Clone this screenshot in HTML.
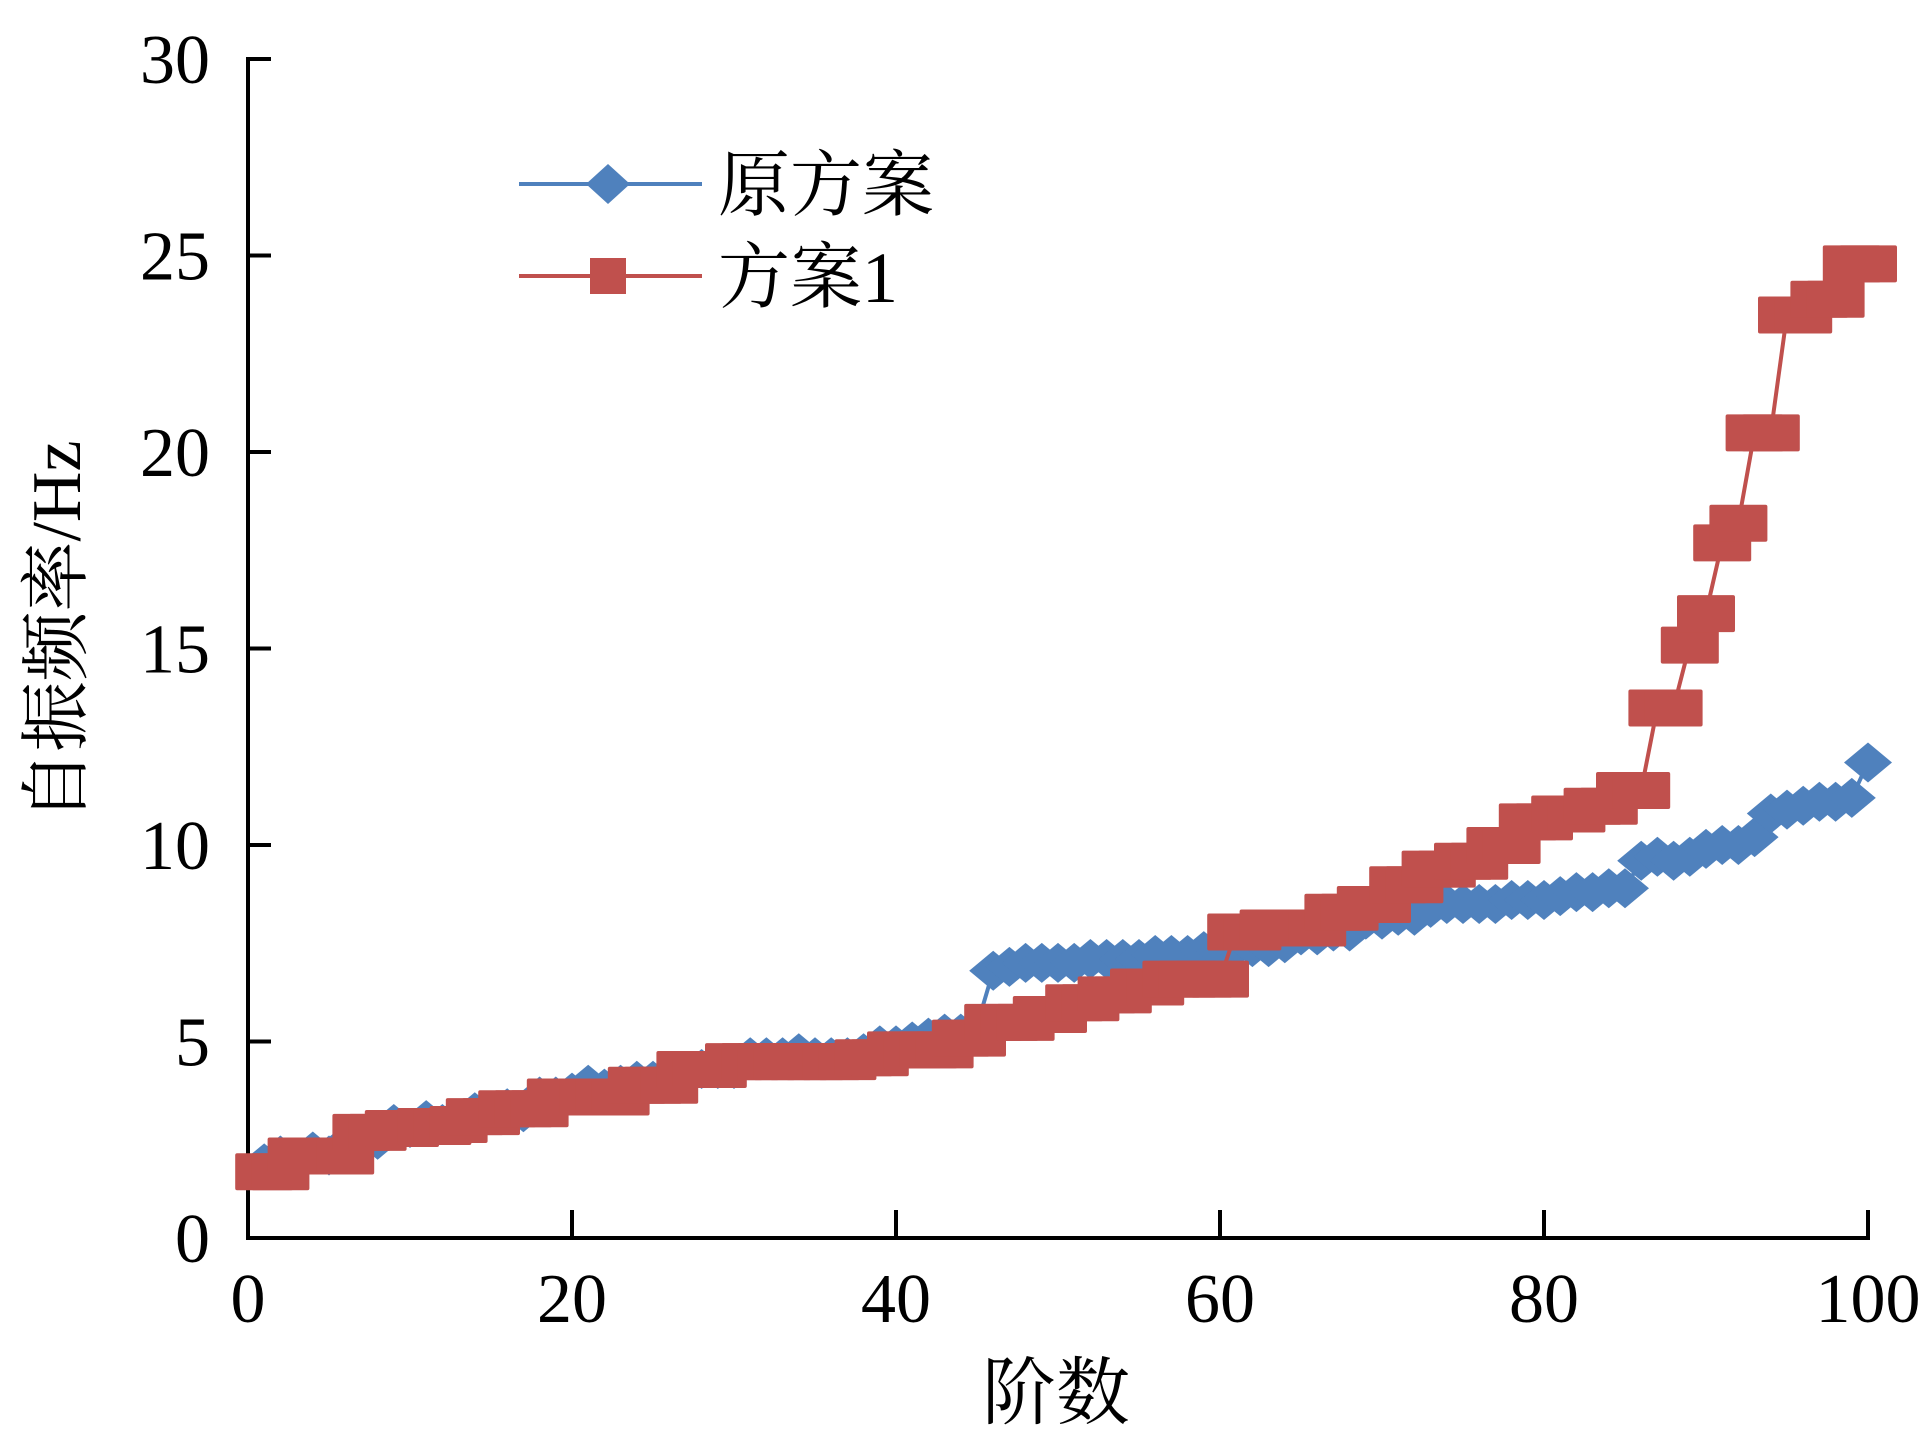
<!DOCTYPE html>
<html><head><meta charset="utf-8"><style>
html,body{margin:0;padding:0;background:#fff;}
svg{display:block;}
text{font-family:"Liberation Serif","Noto Serif CJK SC",serif;fill:#000;}
</style></head><body>
<svg id="chart" width="1925" height="1445" viewBox="0 0 1925 1445" xmlns="http://www.w3.org/2000/svg">
<g id="axes"></g>
<g id="series"></g>
<g id="legend">
  <line x1="519" y1="184" x2="702" y2="184" stroke="#4F81BD" stroke-width="4"/>
  <polygon points="608,164 630,184 608,204 586,184" fill="#4F81BD"/>
  <text x="718" y="210" font-size="72">原方案</text>
  <line x1="519" y1="276" x2="702" y2="276" stroke="#C0504D" stroke-width="4"/>
  <rect x="590" y="258" width="36" height="36" fill="#C0504D"/>
  <text x="718" y="302" font-size="72">方案1</text>
</g>
<text x="1056" y="1418" font-size="74" text-anchor="middle">阶数</text>
<text transform="translate(80,631) rotate(-90)" font-size="70" text-anchor="middle">自振频率/Hz</text>
</svg>
<script>
const xTicks = [0,20,40,60,80,100];
const yTicks = [0,5,10,15,20,25,30];
const original = [1.9,2.1,2.0,2.2,2.1,2.4,2.4,2.5,2.9,2.8,3.0,2.9,3.0,3.2,3.2,3.3,3.2,3.6,3.6,3.7,3.9,3.8,3.9,4.0,4.0,4.2,4.2,4.3,4.3,4.3,4.6,4.6,4.6,4.7,4.6,4.6,4.6,4.7,4.9,4.9,5.0,5.1,5.2,5.2,5.4,6.8,6.9,7.0,7.0,7.0,7.0,7.1,7.1,7.1,7.1,7.2,7.2,7.2,7.3,7.3,7.4,7.4,7.4,7.5,7.7,7.7,7.8,7.8,8.1,8.1,8.2,8.2,8.4,8.5,8.5,8.5,8.5,8.6,8.6,8.6,8.7,8.8,8.8,8.9,8.9,9.6,9.7,9.6,9.7,9.9,10.0,10.0,10.2,10.8,10.9,11.0,11.1,11.1,11.2,12.1];
const scheme1 = [1.7,1.7,2.1,2.1,2.1,2.1,2.7,2.7,2.8,2.8,2.85,2.85,2.9,3.1,3.1,3.3,3.3,3.3,3.6,3.6,3.6,3.6,3.6,3.9,3.9,3.9,4.3,4.3,4.3,4.5,4.5,4.5,4.5,4.5,4.5,4.5,4.5,4.6,4.6,4.8,4.8,4.8,4.8,5.1,5.1,5.5,5.5,5.5,5.7,5.7,6.0,6.0,6.2,6.2,6.4,6.4,6.6,6.6,6.6,6.6,7.8,7.8,7.9,7.9,7.9,7.9,8.3,8.3,8.5,8.5,9.0,9.0,9.4,9.4,9.6,9.6,10.0,10.0,10.6,10.6,10.8,10.8,11.0,11.0,11.4,11.4,13.5,13.5,15.1,15.9,17.7,18.2,20.5,20.5,23.5,23.5,23.9,23.9,24.8,24.8];
const NS='http://www.w3.org/2000/svg';
const X0=248,X1=1868,Y0=1238,Y1=59;
const xs=v=>X0+(v-0)/100*(X1-X0);
const ys=v=>Y0-(v/30)*(Y0-Y1);
function mk(tag,attrs,parent){const e=document.createElementNS(NS,tag);for(const k in attrs)e.setAttribute(k,attrs[k]);parent.appendChild(e);return e;}
const axes=document.getElementById('axes');
let a=mk('line',{x1:X0,y1:Y1-2,x2:X0,y2:Y0+2,stroke:'#000','stroke-width':4},axes);


a=mk('line',{x1:X0-2,y1:Y0,x2:X1+2,y2:Y0,stroke:'#000','stroke-width':4},axes);


yTicks.forEach(v=>{
  const t=mk('line',{x1:X0,y1:ys(v),x2:X0+23,y2:ys(v),stroke:'#000','stroke-width':4},axes);
  
  
  const l=mk('text',{x:210,y:ys(v)+24,'font-size':70,'text-anchor':'end'},axes);
  l.textContent=v;
  
  
});
xTicks.forEach(v=>{
  const t=mk('line',{x1:xs(v),y1:Y0,x2:xs(v),y2:Y0-28,stroke:'#000','stroke-width':4},axes);
  
  
  const l=mk('text',{x:xs(v),y:1322,'font-size':70,'text-anchor':'middle'},axes);
  l.textContent=v;
  
  
});
const sg=document.getElementById('series');
function drawSeries(vals,color,kind,name){
  const g=mk('g',{},sg);
  
  
  const pts=vals.map((v,i)=>xs(i+1)+','+ys(v)).join(' ');
  const pl=mk('polyline',{points:pts,fill:'none',stroke:color,'stroke-width':4},g);
  
  
  vals.forEach((v,i)=>{
    const cx=xs(i+1),cy=ys(v);
    let m;
    if(kind==='d'){
      m=mk('polygon',{points:`${cx},${cy-20} ${cx+24},${cy} ${cx},${cy+20} ${cx-24},${cy}`,fill:color},g);
    }else{
      m=mk('rect',{x:cx-29,y:cy-18,width:58,height:37,rx:2,fill:color},g);
    }
    
    
  });
}
drawSeries(original,'#4F81BD','d','series-original');
drawSeries(scheme1,'#C0504D','s','series-scheme1');
</script>
</body></html>
